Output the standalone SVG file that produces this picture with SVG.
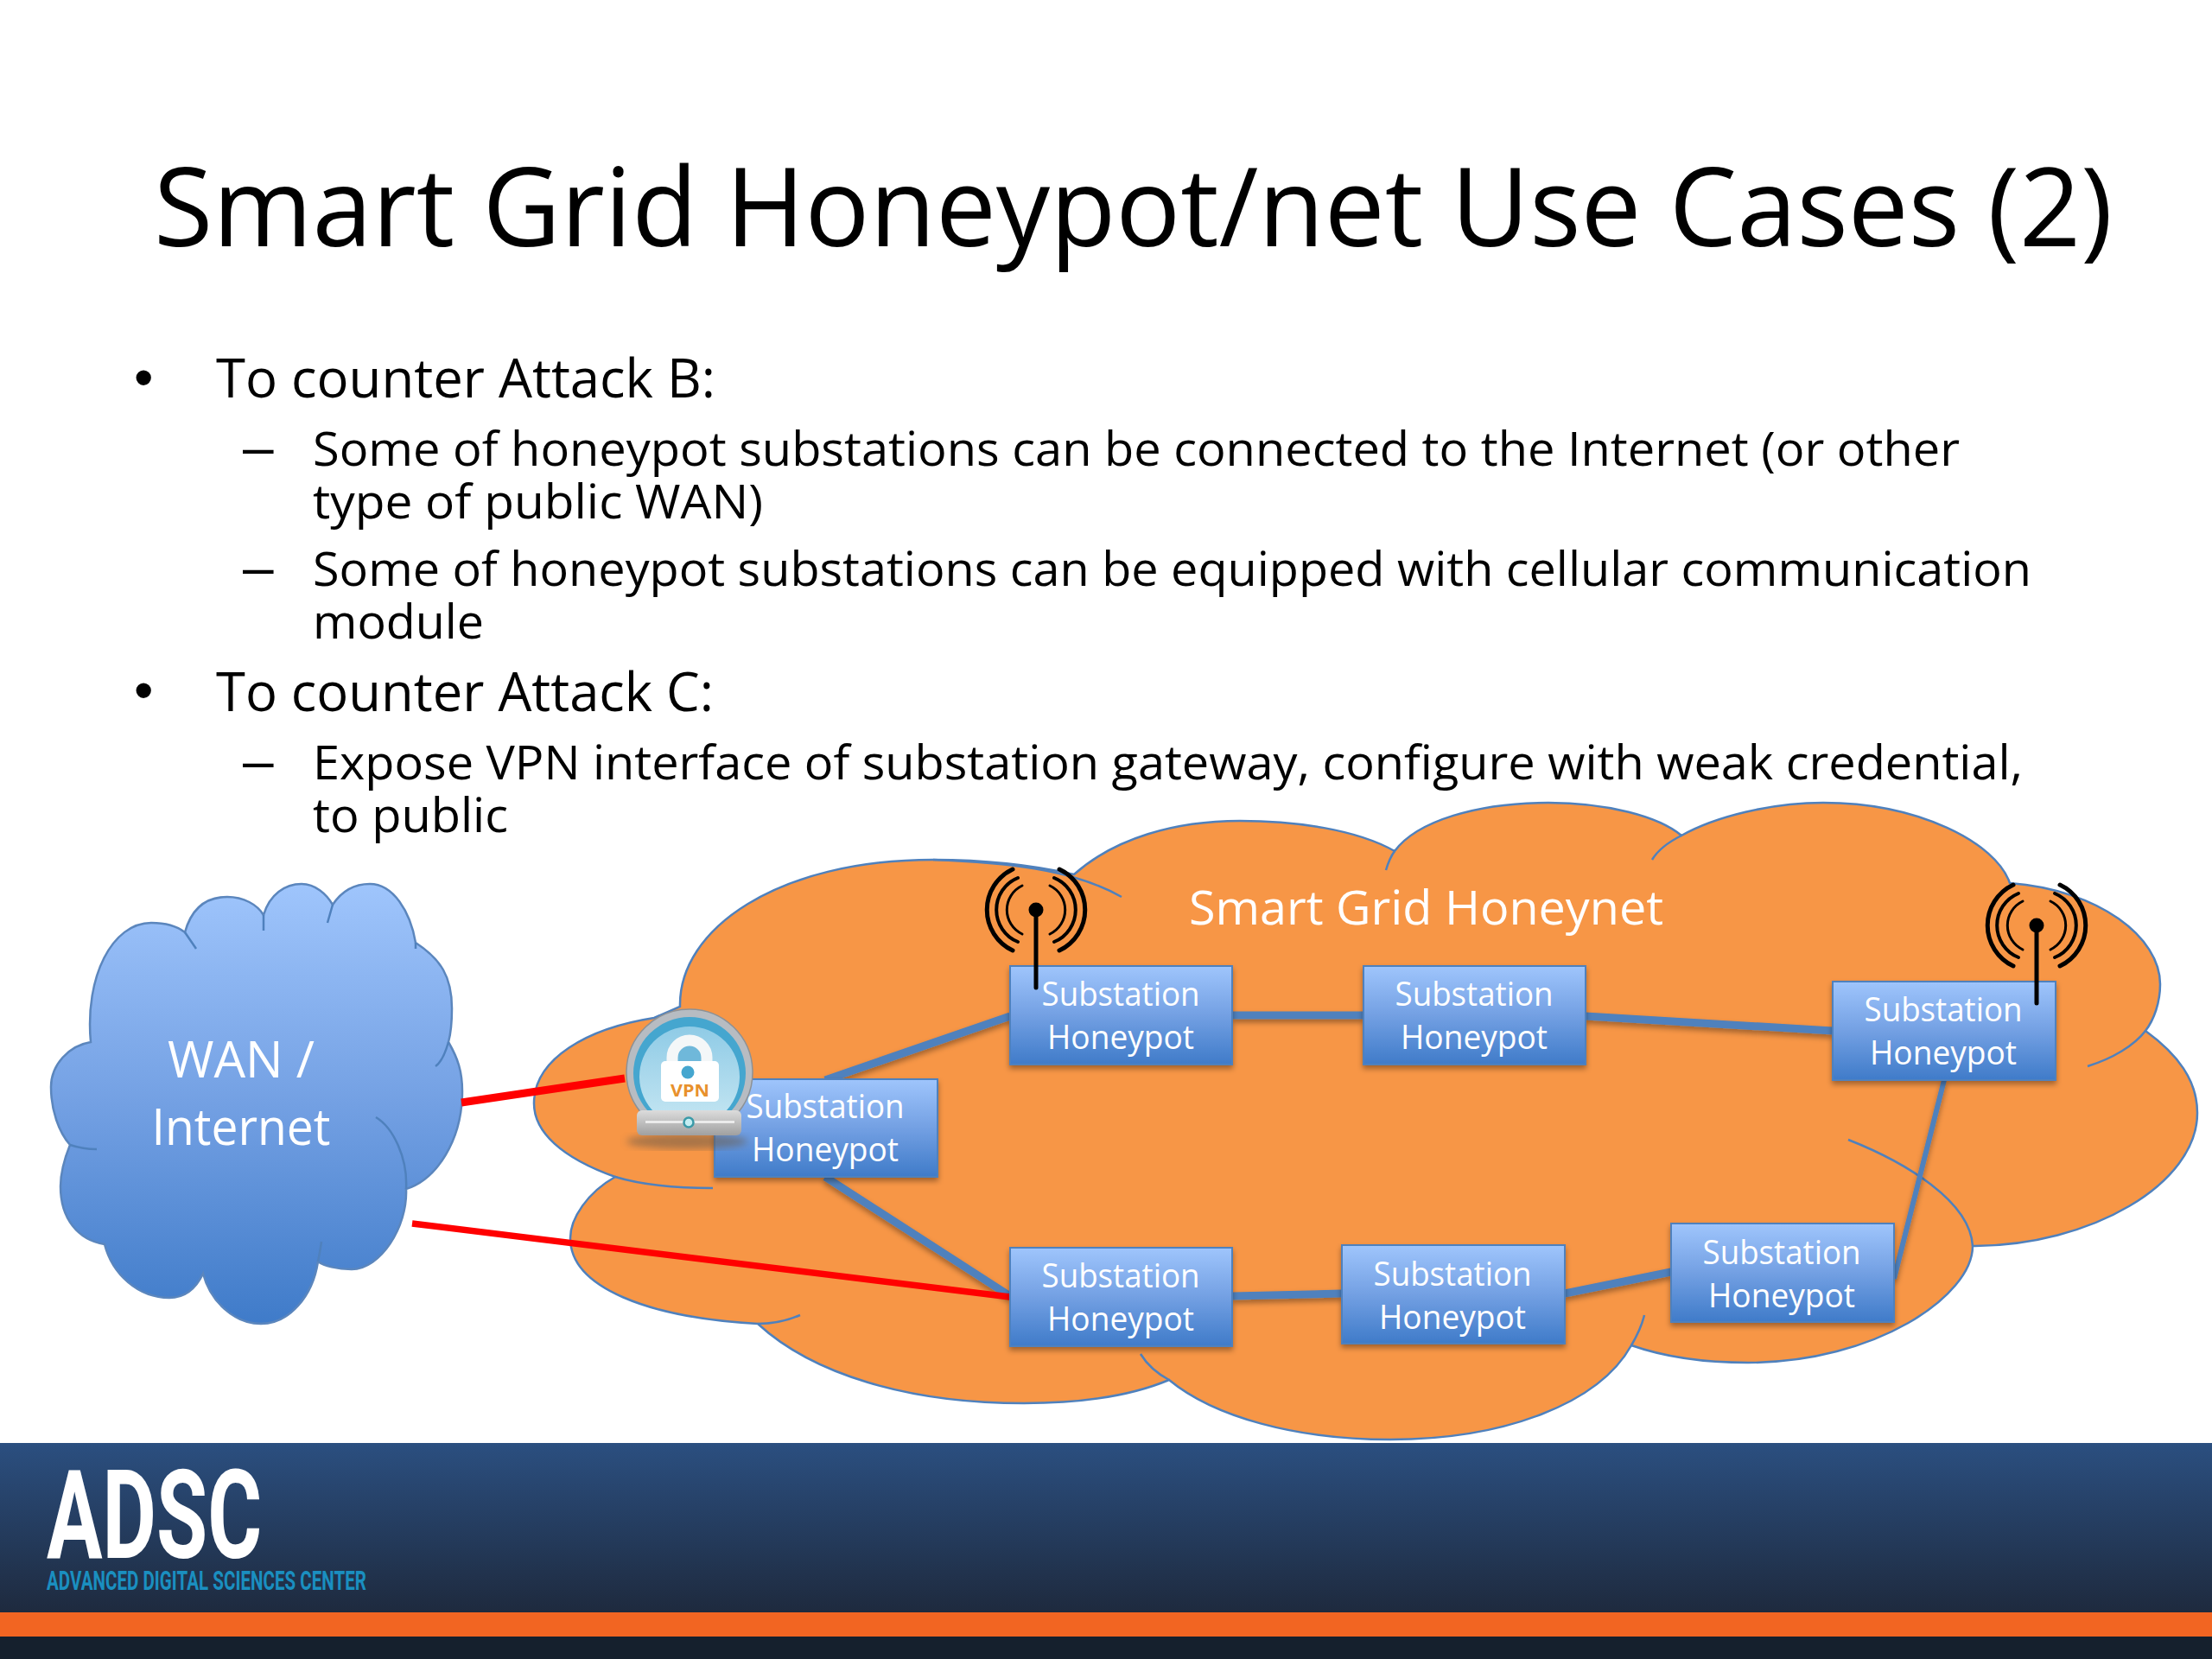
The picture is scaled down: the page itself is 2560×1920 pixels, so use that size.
<svg xmlns="http://www.w3.org/2000/svg" width="2560" height="1920" viewBox="0 0 2560 1920">
<defs>
<linearGradient id="bg" x1="0" y1="0" x2="0" y2="1"><stop offset="0" stop-color="#9fc5fc"/><stop offset="0.5" stop-color="#73a0e3"/><stop offset="1" stop-color="#3f7bc9"/></linearGradient>
<linearGradient id="ft" x1="0" y1="0" x2="0" y2="1"><stop offset="0" stop-color="#2b4f80"/><stop offset="1" stop-color="#1e2a3e"/></linearGradient>
<linearGradient id="base" x1="0" y1="0" x2="0" y2="1"><stop offset="0" stop-color="#dcdcdc"/><stop offset="1" stop-color="#a0a0a0"/></linearGradient>
<linearGradient id="glass" x1="0" y1="0" x2="0" y2="1"><stop offset="0" stop-color="#8fcbe6"/><stop offset="1" stop-color="#bfe3f1"/></linearGradient>
<filter id="sh" x="-10%" y="-10%" width="120%" height="125%"><feDropShadow dx="0" dy="4" stdDeviation="3" flood-color="#000" flood-opacity="0.35"/></filter>
<filter id="blur"><feGaussianBlur stdDeviation="4"/></filter>
<g id="waves" fill="none" stroke="#000" stroke-linecap="round"><path stroke-width="3" d="M-16 -28A31 31 0 0 0 -16 28M16 -28A31 31 0 0 1 16 28"/><path stroke-width="4" d="M-21 -37A40 40 0 0 0 -21 37M21 -37A40 40 0 0 1 21 37"/><path stroke-width="5" d="M-27 -47A52 52 0 0 0 -27 47M27 -47A52 52 0 0 1 27 47"/><circle r="8.500" fill="#000" stroke="none"/></g>
</defs>
<style>
text{font-family:"Open Sans","Noto Sans",sans-serif;font-variant-ligatures:none}
.b{font-size:62px;fill:#000}
.s{font-size:55px;fill:#000}
.g{font-size:64px;fill:#000;font-family:"Liberation Sans",sans-serif}
.w{fill:#fff;font-size:38px;text-anchor:middle}
.box{fill:url(#bg);stroke:#4f81bd;stroke-width:2;filter:url(#sh)}
.tail{fill:none;stroke:#4f81bd;stroke-width:2.5}
.blue{stroke:#4f81bd;stroke-width:9;fill:none}
.red{stroke:#f00;fill:none}
</style>
<rect width="2560" height="1920" fill="#fff"/>
<text x="178" y="285" font-size="127" fill="#000" textLength="2267" lengthAdjust="spacingAndGlyphs">Smart Grid Honeypot/net Use Cases (2)</text>
<g id="bullets">
<text class="g" x="155" y="459">•</text><text class="b" x="250" y="460" textLength="578" lengthAdjust="spacingAndGlyphs">To counter Attack B:</text>
<text class="g" x="281" y="539">–</text><text class="s" x="362" y="539" textLength="1906" lengthAdjust="spacingAndGlyphs">Some of honeypot substations can be connected to the Internet (or other</text>
<text class="s" x="362" y="600" textLength="521" lengthAdjust="spacingAndGlyphs">type of public WAN)</text>
<text class="g" x="281" y="678">–</text><text class="s" x="362" y="678" textLength="1989" lengthAdjust="spacingAndGlyphs">Some of honeypot substations can be equipped with cellular communication</text>
<text class="s" x="362" y="739" textLength="198" lengthAdjust="spacingAndGlyphs">module</text>
<text class="g" x="155" y="821">•</text><text class="b" x="250" y="823" textLength="576" lengthAdjust="spacingAndGlyphs">To counter Attack C:</text>
<text class="g" x="281" y="902">–</text><text class="s" x="362" y="902" textLength="1979" lengthAdjust="spacingAndGlyphs">Expose VPN interface of substation gateway, configure with weak credential,</text>
<text class="s" x="362" y="963" textLength="226" lengthAdjust="spacingAndGlyphs">to public</text>
</g>
<g id="honeynet-cloud">
<path fill="#f79646" stroke="#4f81bd" stroke-width="2.5" d="M712 1362C650 1340 618 1310 618 1277C618 1225 680 1190 757 1178L787 1165C785 1075 900 995 1080 995C1140 995 1190 1000 1243 1012C1290 970 1360 950 1435 950C1500 950 1570 960 1614 985C1640 950 1710 929 1792 929C1860 929 1920 945 1946 967C1985 945 2050 929 2110 929C2220 929 2310 975 2326 1022C2430 1030 2500 1085 2500 1139C2500 1160 2493 1180 2483 1193C2520 1220 2543 1250 2543 1288C2543 1370 2420 1442 2283 1442C2283 1500 2170 1577 2023 1577C1970 1577 1925 1570 1888 1557C1850 1625 1740 1666 1609 1666C1500 1666 1405 1640 1353 1597C1310 1615 1250 1624 1185 1624C1050 1624 940 1590 877 1532C750 1525 660 1490 660 1433C660 1410 680 1380 712 1362Z"/>
<path class="tail" d="M712 1362C745 1372 790 1375 825 1375M877 1532C895 1532 912 1528 926 1522M1353 1597C1340 1590 1328 1580 1320 1567M1888 1557C1895 1545 1900 1535 1903 1522M2283 1442C2280 1390 2205 1345 2139 1319M2483 1193C2470 1210 2445 1225 2416 1234M1946 967C1930 975 1918 985 1912 995M1614 985C1609 992 1606 1000 1604 1007M1080 995C1160 998 1240 1005 1298 1038"/>
<text x="1376" y="1070" fill="#fff" font-size="54" textLength="549" lengthAdjust="spacingAndGlyphs">Smart Grid Honeynet</text>
</g>
<g id="wan-cloud">
<path fill="url(#bg)" stroke="#5b86bd" stroke-width="2.5" d="M105 1206C98 1130 130 1068 175 1068C190 1068 205 1072 214 1079C222 1050 240 1038 263 1038C282 1038 298 1047 305 1059C312 1035 330 1023 349 1023C365 1023 378 1035 385 1047C395 1032 410 1023 428 1023C455 1023 475 1055 481 1091C510 1110 523 1130 523 1167C523 1185 522 1195 519 1206C530 1225 535 1240 535 1263C535 1320 505 1365 470 1376C472 1420 440 1469 407 1469C390 1469 375 1465 368 1460C362 1500 335 1532 302 1532C270 1532 243 1505 235 1474C225 1495 210 1502 196 1502C160 1502 130 1475 121 1440C90 1435 70 1410 70 1373C70 1355 75 1340 81 1325C68 1310 59 1285 59 1258C59 1232 80 1210 105 1206Z"/>
<path class="tail" d="M81 1325C90 1328 100 1330 112 1330M519 1206C515 1220 510 1230 504 1234M470 1376C472 1340 455 1305 435 1293M368 1460C370 1450 371 1445 372 1437M481 1091L481 1098M385 1047L379 1068M305 1059L305 1077M214 1079L227 1098"/>
<text x="279" y="1247" fill="#fff" font-size="58" text-anchor="middle" textLength="170" lengthAdjust="spacingAndGlyphs">WAN /</text>
<text x="279" y="1325" fill="#fff" font-size="58" text-anchor="middle" textLength="207" lengthAdjust="spacingAndGlyphs">Internet</text>
</g>
<g id="connectors">
<g filter="url(#sh)">
<path class="blue" d="M955 1250L1169 1176"/>
<path class="blue" d="M955 1362L1169 1500"/>
<path class="blue" d="M1427 1175H1578"/>
<path class="blue" d="M1835 1176L2121 1193"/>
<path class="blue" style="stroke-width:6" d="M2250 1250L2192 1480"/>
<path class="blue" d="M1427 1500L1553 1497"/>
<path class="blue" d="M1811 1497L1934 1472"/>
</g>
<path class="red" stroke-width="9" d="M534 1276L723 1248"/>
<path class="red" stroke-width="7.500" d="M477 1416L1169 1501"/>
</g>
<g id="sub-left"><rect class="box" x="827" y="1249" width="258" height="113"/><text class="w" x="955" y="1294" textLength="183" lengthAdjust="spacingAndGlyphs">Substation</text><text class="w" x="955" y="1344" textLength="170" lengthAdjust="spacingAndGlyphs">Honeypot</text></g>
<g id="sub-top1"><rect class="box" x="1169" y="1118" width="257" height="114"/><text class="w" x="1297" y="1164" textLength="183" lengthAdjust="spacingAndGlyphs">Substation</text><text class="w" x="1297" y="1214" textLength="170" lengthAdjust="spacingAndGlyphs">Honeypot</text></g>
<g id="sub-top2"><rect class="box" x="1578" y="1118" width="257" height="114"/><text class="w" x="1706" y="1164" textLength="183" lengthAdjust="spacingAndGlyphs">Substation</text><text class="w" x="1706" y="1214" textLength="170" lengthAdjust="spacingAndGlyphs">Honeypot</text></g>
<g id="sub-top3"><rect class="box" x="2121" y="1136" width="258" height="114"/><text class="w" x="2249" y="1182" textLength="183" lengthAdjust="spacingAndGlyphs">Substation</text><text class="w" x="2249" y="1232" textLength="170" lengthAdjust="spacingAndGlyphs">Honeypot</text></g>
<g id="sub-bot1"><rect class="box" x="1169" y="1444" width="257" height="114"/><text class="w" x="1297" y="1490" textLength="183" lengthAdjust="spacingAndGlyphs">Substation</text><text class="w" x="1297" y="1540" textLength="170" lengthAdjust="spacingAndGlyphs">Honeypot</text></g>
<g id="sub-bot2"><rect class="box" x="1553" y="1441" width="258" height="114"/><text class="w" x="1681" y="1488" textLength="183" lengthAdjust="spacingAndGlyphs">Substation</text><text class="w" x="1681" y="1538" textLength="170" lengthAdjust="spacingAndGlyphs">Honeypot</text></g>
<g id="sub-bot3"><rect class="box" x="1934" y="1416" width="258" height="114"/><text class="w" x="2062" y="1463" textLength="183" lengthAdjust="spacingAndGlyphs">Substation</text><text class="w" x="2062" y="1513" textLength="170" lengthAdjust="spacingAndGlyphs">Honeypot</text></g>
<g id="antenna-left"><use href="#waves" x="1199" y="1053"/><path d="M1199 1053V1143" stroke="#000" stroke-width="5" stroke-linecap="round"/></g>
<g id="antenna-right"><use href="#waves" x="2357" y="1071"/><path d="M2357 1071V1161" stroke="#000" stroke-width="5" stroke-linecap="round"/></g>
<g id="vpn">
<ellipse cx="795" cy="1321" rx="70" ry="9" fill="#6b5a4a" opacity="0.55" filter="url(#blur)"/>
<path d="M744 1290A73 73 0 1 1 852 1290Z" fill="#b7bcc2" stroke="#8c9196" stroke-width="1.500"/>
<path d="M752 1288A65 65 0 1 1 844 1288Z" fill="#45a6cf"/>
<path d="M758 1288A58 58 0 1 1 838 1288Z" fill="url(#glass)"/>
<path d="M778 1232V1224A20 20 0 0 1 818 1224V1232" fill="#6fb8da" stroke="#f4f7f8" stroke-width="13"/>
<rect x="765" y="1228" width="67" height="47" rx="5" fill="#fff"/>
<circle cx="796" cy="1241" r="7.500" fill="#45a6cf"/>
<text x="798.500" y="1269" font-size="20" font-weight="700" fill="#e8912d" text-anchor="middle" textLength="45" lengthAdjust="spacingAndGlyphs">VPN</text>
<rect x="737" y="1285" width="121" height="29" rx="6" fill="url(#base)"/>
<path d="M747 1298.500H850" stroke="#f2f2f2" stroke-width="2.500"/>
<circle cx="797" cy="1299" r="5.500" fill="#c5eef2" stroke="#3a9aa8" stroke-width="2.500"/>
</g>
<g id="footer">
<rect y="1670" width="2560" height="196" fill="url(#ft)"/>
<rect y="1866" width="2560" height="28" fill="#f26522"/>
<rect y="1894" width="2560" height="26" fill="#15202d"/>
<text x="54" y="1803" font-size="142" font-weight="700" fill="#fff" style="font-family:Roboto,'Liberation Sans',sans-serif" textLength="249" lengthAdjust="spacingAndGlyphs">ADSC</text>
<text x="54" y="1840" font-size="31" font-weight="700" fill="#1a8fc0" style="font-family:Roboto,'Liberation Sans',sans-serif" textLength="370" lengthAdjust="spacingAndGlyphs">ADVANCED DIGITAL SCIENCES CENTER</text>
</g>
</svg>
